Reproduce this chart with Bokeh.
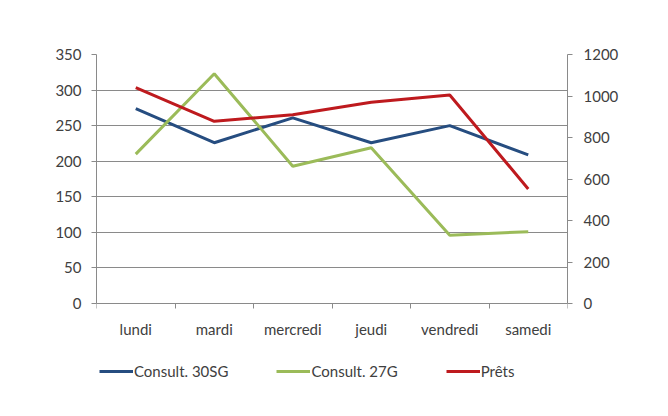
from bokeh.plotting import figure
from bokeh.models import Range1d, LinearAxis, FixedTicker, Legend, LegendItem
from bokeh.embed import file_html
from bokeh.resources import INLINE

days = ["lundi", "mardi", "mercredi", "jeudi", "vendredi", "samedi"]
consult_30sg = [274, 226, 261, 226, 250, 209]
consult_27g = [210, 323, 193, 219, 96, 101]
prets = [1040, 878, 910, 970, 1005, 552]
left_ticks = [0, 50, 100, 150, 200, 250, 300, 350]
right_ticks = [0, 200, 400, 600, 800, 1000, 1200]

FONT = "Lato"
TXT = "#404040"
GRID = "#8a8a8a"
BLUE = "#264D80"
GREEN = "#9BBB59"
RED = "#BE1A1E"

# layout (pixels): the frame also holds the legend area below the axis
FRAME_W, FRAME_H, CHART_H = 471, 340, 249
ext = FRAME_H / CHART_H

x = [i + 0.5 for i in range(len(days))]

lo, hi = left_ticks[0], left_ticks[-1]
rlo, rhi = right_ticks[0], right_ticks[-1]

p = figure(frame_width=FRAME_W, frame_height=FRAME_H, x_range=Range1d(0, len(days)),
           y_range=Range1d(hi - (hi - lo) * ext, hi),
           x_axis_location=None,
           output_backend="svg", toolbar_location=None,
           min_border_left=96, min_border_right=85, min_border_top=54, min_border_bottom=5)
p.title.visible = False
p.outline_line_color = None
p.background_fill_color = "white"
p.border_fill_color = "white"
p.xgrid.visible = False

p.extra_y_ranges = {"right": Range1d(rhi - (rhi - rlo) * ext, rhi)}

# x axis, fixed at y = 0
xa = LinearAxis(fixed_location=lo,
                ticker=FixedTicker(ticks=x, minor_ticks=list(range(len(days) + 1))))
xa.major_label_overrides = {xv: d for xv, d in zip(x, days)}
xa.major_tick_line_color = None
xa.major_tick_out = 0
xa.major_tick_in = 0
xa.minor_tick_line_color = GRID
xa.minor_tick_out = 5
xa.minor_tick_in = 0
xa.axis_line_color = GRID
xa.major_label_standoff = 11
xa.major_label_text_font = FONT
xa.major_label_text_font_size = "15px"
xa.major_label_text_color = TXT
p.add_layout(xa, "below")

ya = p.yaxis[0]
ya.ticker = FixedTicker(ticks=left_ticks)
ya.bounds = (lo, hi)
ya.major_tick_out = 5
ya.major_tick_in = 0
ya.minor_tick_line_color = None
ya.major_tick_line_color = GRID
ya.axis_line_color = GRID
ya.major_label_standoff = 10
ya.major_label_text_font = FONT
ya.major_label_text_font_size = "15px"
ya.major_label_text_color = TXT

ra = LinearAxis(y_range_name="right", ticker=FixedTicker(ticks=right_ticks), bounds=(rlo, rhi))
ra.major_tick_out = 5
ra.major_tick_in = 0
ra.minor_tick_line_color = None
ra.major_tick_line_color = GRID
ra.axis_line_color = GRID
ra.major_label_standoff = 11
ra.major_label_text_font = FONT
ra.major_label_text_font_size = "15px"
ra.major_label_text_color = TXT
p.add_layout(ra, "right")

p.ygrid.ticker = FixedTicker(ticks=left_ticks)
p.ygrid.grid_line_color = GRID
p.ygrid.grid_line_width = 1

r1 = p.line(x, consult_30sg, line_width=3, color=BLUE)
r2 = p.line(x, consult_27g, line_width=3, color=GREEN)
r3 = p.line(x, prets, line_width=3, color=RED, y_range_name="right")

lg = Legend(items=[LegendItem(label="Consult. 30SG", renderers=[r1]),
                   LegendItem(label="Consult. 27G", renderers=[r2]),
                   LegendItem(label="Prêts", renderers=[r3])],
            location=(3, 14), orientation="horizontal", padding=0, margin=0, spacing=48,
            glyph_width=34, glyph_height=16, label_standoff=1, label_height=16,
            border_line_color=None, background_fill_alpha=0,
            label_text_font=FONT, label_text_font_size="15px", label_text_color=TXT)
p.add_layout(lg, "center")

open("out.html", "w").write(file_html(p, INLINE))
